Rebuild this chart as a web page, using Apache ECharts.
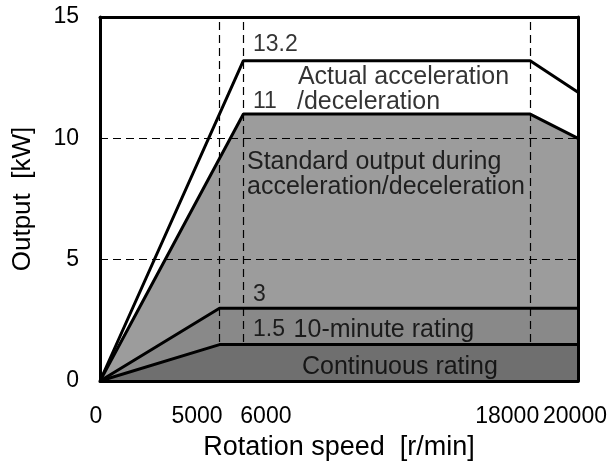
<!DOCTYPE html>
<html>
<head>
<meta charset="utf-8">
<script src="https://cdn.jsdelivr.net/npm/echarts@6/dist/echarts.min.js"></script>
<style>
  html, body { margin: 0; padding: 0; background: #fff; }
  #main { width: 616px; height: 463px; }
</style>
</head>
<body>
<div id="main"></div>
<script>
// rotation speed [r/min] / output [kW]
var actualSpeed = [0, 6000, 18000, 20000];
var actualOutput = [0, 13.2, 13.2, 11.9];
var standardSpeed = [0, 6000, 18000, 20000];
var standardOutput = [0, 11, 11, 10];
var tenMinSpeed = [0, 5000, 20000];
var tenMinOutput = [0, 3, 3];
var contSpeed = [0, 5000, 20000];
var contOutput = [0, 1.5, 1.5];

var xTicks = [0, 5000, 6000, 18000, 20000];
var yTicks = [0, 5, 10, 15];
var guideX = [5000, 6000, 18000];
var guideY = [5, 10];

// value notes and text notes, placed in data coordinates
var valueNotes = [
  [6400, 13.85, '13.2'],
  [6400, 11.5, '11'],
  [6400, 3.54, '3'],
  [6400, 2.1, '1.5']
];
var textNotes = [
  [8280, 12.53, 'Actual acceleration'],
  [8240, 11.5, '/deceleration'],
  [6150, 9.02, 'Standard output during'],
  [6150, 7.99, 'acceleration/deceleration'],
  [8100, 2.1, '10-minute rating'],
  [8450, 0.58, 'Continuous rating']
];

function pairs(xs, ys) {
  var out = [];
  for (var i = 0; i < xs.length; i++) {
    out.push([xs[i], ys[i]]);
  }
  return out;
}

function noteData(list) {
  return list.map(function (n) { return { value: [n[0], n[1]], text: n[2] }; });
}

var font = '"Liberation Sans", Arial, sans-serif';
var lineStyle = { color: '#000', width: 3 };

// label nudges so the tick texts sit like the original
var xLabelShift = { 0: 'a', 5000: 'b', 6000: 'c', 18000: 'd', 20000: 'e' };

var markData = [];
guideY.forEach(function (v) { markData.push({ yAxis: v }); });
guideX.forEach(function (v) { markData.push({ xAxis: v }); });

function noteSeries(name, list, size) {
  return {
    name: name,
    type: 'scatter',
    symbolSize: 0,
    z: 7,
    silent: true,
    data: noteData(list),
    label: {
      show: true,
      position: 'right',
      distance: 0,
      color: '#000',
      fontSize: size,
      fontFamily: font,
      formatter: function (p) { return p.data.text; }
    }
  };
}

var chart = echarts.init(document.getElementById('main'));
var option = {
  animation: false,
  backgroundColor: '#fff',
  textStyle: { fontFamily: font },
  grid: { left: 100, right: 38, top: 17, bottom: 82, outerBoundsMode: 'none', containLabel: false },
  xAxis: [{
    type: 'value',
    min: 0,
    max: 20000,
    z: 10,
    name: 'Rotation speed  [r/min]',
    nameLocation: 'middle',
    nameGap: 53,
    nameTextStyle: { fontSize: 27, color: '#000', fontFamily: font },
    axisLine: { show: true, onZero: false, lineStyle: lineStyle },
    axisTick: { show: false },
    splitLine: { show: false },
    axisLabel: {
      customValues: xTicks,
      margin: 24,
      color: '#000',
      fontSize: 23,
      fontFamily: font,
      formatter: function (v) {
        return '{' + xLabelShift[v] + '|' + v + '}';
      },
      rich: {
        a: { fontSize: 23, padding: [0, 8, 0, 0] },
        b: { fontSize: 23, padding: [0, 45, 0, 0] },
        c: { fontSize: 23, padding: [0, 0, 0, 45] },
        d: { fontSize: 23, padding: [0, 46, 0, 0] },
        e: { fontSize: 23, padding: [0, 6, 0, 0] }
      }
    }
  }, {
    type: 'value',
    min: 0,
    max: 20000,
    position: 'top',
    z: 10,
    axisLine: { show: true, onZero: false, lineStyle: lineStyle },
    axisTick: { show: false },
    axisLabel: { show: false },
    splitLine: { show: false }
  }],
  yAxis: [{
    type: 'value',
    min: 0,
    max: 15,
    interval: 5,
    z: 10,
    name: 'Output  [kW]',
    nameLocation: 'middle',
    nameGap: 64,
    nameTextStyle: { fontSize: 26, color: '#000', fontFamily: font },
    axisLine: { show: true, onZero: false, lineStyle: lineStyle },
    axisTick: { show: false },
    splitLine: { show: false },
    axisLabel: {
      customValues: yTicks,
      margin: 21,
      color: '#000',
      fontSize: 23,
      fontFamily: font
    }
  }, {
    type: 'value',
    min: 0,
    max: 15,
    position: 'right',
    z: 10,
    axisLine: { show: true, onZero: false, lineStyle: lineStyle },
    axisTick: { show: false },
    axisLabel: { show: false },
    splitLine: { show: false }
  }],
  series: [{
    name: 'Actual acceleration/deceleration',
    type: 'line',
    data: pairs(actualSpeed, actualOutput),
    showSymbol: false,
    lineStyle: lineStyle,
    z: 2
  }, {
    name: 'Standard output during acceleration/deceleration',
    type: 'line',
    data: pairs(standardSpeed, standardOutput),
    showSymbol: false,
    lineStyle: lineStyle,
    areaStyle: { color: '#9c9c9c', opacity: 1 },
    z: 3
  }, {
    name: '10-minute rating',
    type: 'line',
    data: pairs(tenMinSpeed, tenMinOutput),
    showSymbol: false,
    lineStyle: lineStyle,
    areaStyle: { color: '#898989', opacity: 1 },
    z: 4
  }, {
    name: 'Continuous rating',
    type: 'line',
    data: pairs(contSpeed, contOutput),
    showSymbol: false,
    lineStyle: lineStyle,
    areaStyle: { color: '#6f6f6f', opacity: 1 },
    z: 5
  }, {
    name: 'guides',
    type: 'line',
    data: [],
    z: 6,
    markLine: {
      silent: true,
      symbol: 'none',
      label: { show: false },
      lineStyle: { color: '#000', width: 1.2, type: [8, 5] },
      data: markData
    }
  },
  noteSeries('value notes', valueNotes, 23),
  noteSeries('text notes', textNotes, 25)
  ]
};
chart.setOption(option);
</script>
</body>
</html>
